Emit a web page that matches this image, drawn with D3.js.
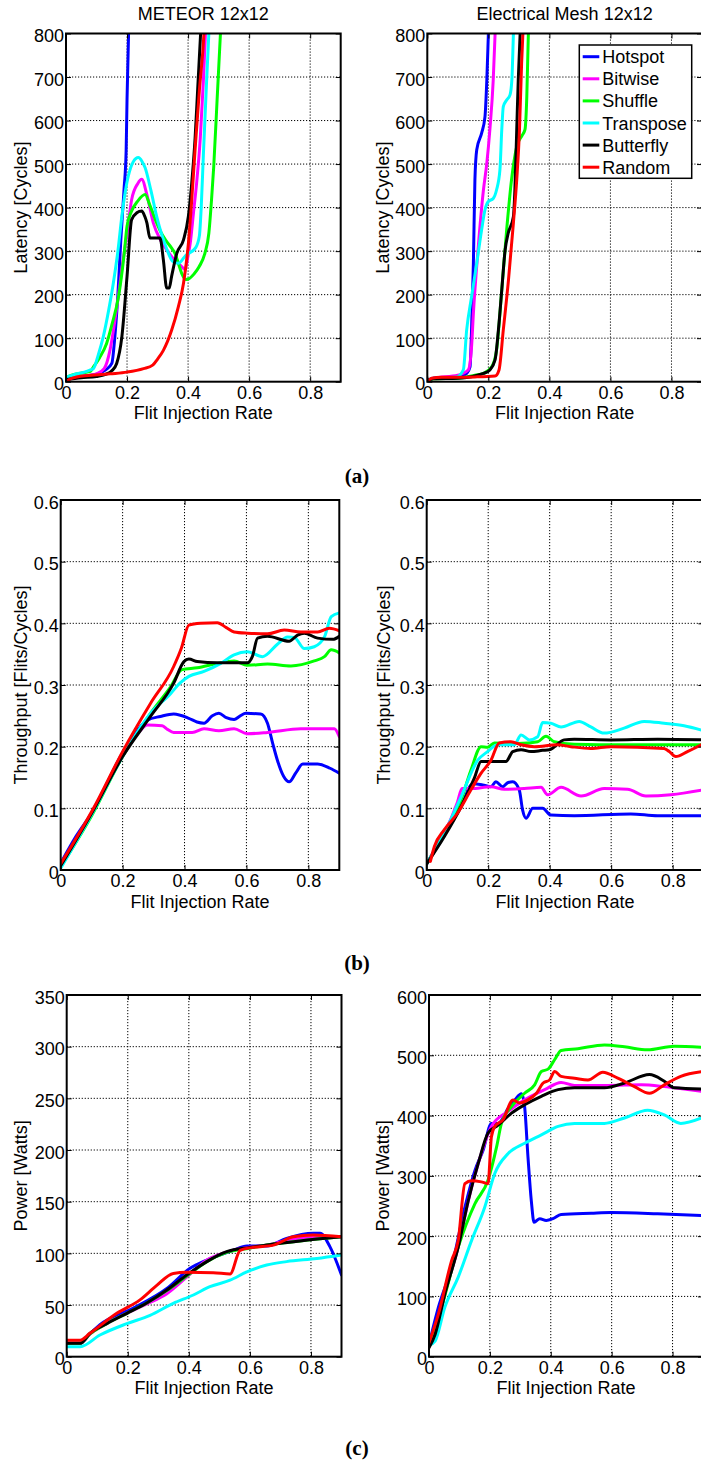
<!DOCTYPE html>
<html><head><meta charset="utf-8">
<script src="https://cdn.jsdelivr.net/npm/d3@7"></script>
<style>body{margin:0;background:#fff}svg{display:block}</style>
</head><body>
<svg id="c" width="701" height="1464"></svg>
<script>
// ---------- labels / ticks ----------
const seriesNames = ["Hotspot","Bitwise","Shuffle","Transpose","Butterfly","Random"];
const seriesColors = ["#0000ff","#ff00ff","#00ff00","#00ffff","#000000","#ff0000"];
const panelTitles = ["METEOR 12x12","Electrical Mesh 12x12"];
const captions = ["(a)","(b)","(c)"];
const xTicks = [0,0.2,0.4,0.6,0.8];
const latencyTicks = [0,100,200,300,400,500,600,700,800];
const throughputTicks = [0,0.1,0.2,0.3,0.4,0.5,0.6];
const meteorPowerTicks = [0,50,100,150,200,250,300,350];
const meshPowerTicks = [0,100,200,300,400,500,600];
const yLabels = ["Latency [Cycles]","Throughput [Flits/Cycles]","Power [Watts]"];
const xLabel = "Flit Injection Rate";

// ---------- METEOR latency ----------
const meteorLatencyHotspot = [[0,5],[0.05,12],[0.1,17],[0.13,27],[0.15,42],[0.16,103],[0.17,200],[0.18,330],[0.19,440],[0.197,530],[0.2,650],[0.205,800],[0.208,860]];
const meteorLatencyBitwise = [[0,5],[0.05,12],[0.1,18],[0.125,30],[0.144,72],[0.158,130],[0.17,188],[0.185,270],[0.2,340],[0.215,418],[0.235,455],[0.248,465],[0.265,430],[0.286,365],[0.31,325],[0.33,303],[0.355,280],[0.374,268],[0.39,258],[0.4,290],[0.407,318],[0.418,390],[0.428,457],[0.44,560],[0.45,690],[0.457,800],[0.46,850]];
const meteorLatencyShuffle = [[0,10],[0.03,17],[0.06,21],[0.08,24],[0.09,34],[0.11,55],[0.133,88],[0.15,130],[0.172,195],[0.19,290],[0.2,357],[0.215,392],[0.235,415],[0.259,430],[0.275,405],[0.297,365],[0.315,338],[0.33,322],[0.345,308],[0.357,295],[0.368,272],[0.379,249],[0.392,235],[0.401,236],[0.42,248],[0.436,264],[0.455,295],[0.468,341],[0.477,420],[0.484,494],[0.495,647],[0.506,800],[0.51,860]];
const meteorLatencyTranspose = [[0,10],[0.03,17],[0.06,22],[0.08,27],[0.09,30],[0.105,60],[0.122,103],[0.14,165],[0.155,226],[0.17,300],[0.183,380],[0.195,440],[0.204,472],[0.22,505],[0.237,515],[0.25,505],[0.259,492],[0.278,440],[0.297,380],[0.315,335],[0.33,305],[0.35,276],[0.368,272],[0.392,290],[0.425,308],[0.437,335],[0.443,400],[0.45,520],[0.46,680],[0.468,800],[0.472,860]];
const meteorLatencyButterfly = [[0,5],[0.05,9],[0.1,12],[0.13,17],[0.15,25],[0.166,42],[0.183,103],[0.2,242],[0.215,372],[0.232,388],[0.248,392],[0.258,380],[0.265,365],[0.275,330],[0.29,330],[0.308,330],[0.319,280],[0.33,215],[0.338,215],[0.346,242],[0.363,295],[0.385,326],[0.401,380],[0.412,457],[0.423,560],[0.432,680],[0.441,800],[0.445,860]];
const meteorLatencyRandom = [[0,0],[0.01,5],[0.035,11],[0.144,18],[0.2,22],[0.254,30],[0.284,38],[0.3,52],[0.319,72],[0.346,118],[0.368,172],[0.385,226],[0.401,318],[0.412,418],[0.423,534],[0.437,670],[0.452,800],[0.456,860]];

// ---------- Electrical Mesh latency ----------
const meshLatencyHotspot = [[0,3],[0.02,8],[0.1,11],[0.13,20],[0.14,34],[0.145,119],[0.151,272],[0.156,464],[0.162,533],[0.178,571],[0.189,609],[0.195,693],[0.2,797],[0.202,840]];
const meshLatencyBitwise = [[0,3],[0.02,8],[0.1,15],[0.134,27],[0.145,80],[0.151,157],[0.167,310],[0.184,441],[0.195,502],[0.205,579],[0.216,693],[0.222,797],[0.224,840]];
const meshLatencyShuffle = [[0,3],[0.02,7],[0.1,8],[0.156,15],[0.184,19],[0.211,34],[0.227,73],[0.244,211],[0.26,349],[0.276,464],[0.293,540],[0.31,565],[0.32,579],[0.326,655],[0.331,797],[0.333,840]];
const meshLatencyTranspose = [[0,3],[0.02,8],[0.096,11],[0.118,27],[0.129,119],[0.145,195],[0.162,272],[0.178,349],[0.189,395],[0.2,414],[0.216,421],[0.227,441],[0.238,487],[0.244,579],[0.249,632],[0.26,647],[0.271,659],[0.277,693],[0.282,797],[0.284,840]];
const meshLatencyButterfly = [[0,3],[0.02,7],[0.1,8],[0.184,19],[0.205,27],[0.222,50],[0.233,119],[0.244,211],[0.255,303],[0.265,341],[0.282,379],[0.287,441],[0.293,579],[0.298,693],[0.304,797],[0.306,840]];
const meshLatencyRandom = [[0,0],[0.014,8],[0.047,10],[0.156,11],[0.222,13],[0.235,27],[0.249,119],[0.266,234],[0.282,364],[0.293,464],[0.302,579],[0.309,732],[0.313,797],[0.315,840]];

// ---------- METEOR throughput ----------
const meteorThroughputHotspot = [[0,0.011],[0.05,0.055],[0.106,0.097],[0.2,0.19],[0.25,0.228],[0.28,0.243],[0.322,0.249],[0.365,0.253],[0.414,0.246],[0.44,0.24],[0.463,0.238],[0.49,0.25],[0.511,0.254],[0.535,0.247],[0.56,0.244],[0.58,0.25],[0.598,0.254],[0.646,0.253],[0.668,0.238],[0.685,0.205],[0.7,0.178],[0.72,0.152],[0.738,0.143],[0.76,0.158],[0.782,0.172],[0.83,0.172],[0.87,0.165],[0.9,0.157]];
const meteorThroughputBitwise = [[0,0.008],[0.1,0.093],[0.2,0.185],[0.25,0.222],[0.28,0.235],[0.328,0.234],[0.345,0.228],[0.365,0.223],[0.425,0.223],[0.463,0.229],[0.511,0.226],[0.56,0.229],[0.603,0.221],[0.668,0.223],[0.776,0.229],[0.884,0.229],[0.9,0.216]];
const meteorThroughputShuffle = [[0,0.005],[0.1,0.088],[0.2,0.184],[0.29,0.254],[0.355,0.297],[0.392,0.325],[0.441,0.328],[0.506,0.335],[0.56,0.339],[0.603,0.332],[0.668,0.334],[0.744,0.331],[0.819,0.339],[0.852,0.346],[0.874,0.357],[0.9,0.352]];
const meteorThroughputTranspose = [[0,0.003],[0.1,0.09],[0.2,0.184],[0.29,0.254],[0.355,0.286],[0.385,0.303],[0.414,0.314],[0.463,0.322],[0.517,0.335],[0.56,0.349],[0.603,0.354],[0.652,0.346],[0.7,0.366],[0.733,0.378],[0.755,0.377],[0.787,0.359],[0.819,0.362],[0.852,0.378],[0.874,0.411],[0.9,0.417]];
const meteorThroughputButterfly = [[0,0.007],[0.1,0.092],[0.2,0.184],[0.29,0.249],[0.365,0.303],[0.398,0.338],[0.414,0.342],[0.441,0.338],[0.506,0.336],[0.603,0.336],[0.619,0.346],[0.636,0.376],[0.668,0.379],[0.738,0.371],[0.765,0.381],[0.787,0.384],[0.83,0.376],[0.879,0.374],[0.9,0.379]];
const meteorThroughputRandom = [[0,0.01],[0.106,0.1],[0.2,0.192],[0.29,0.27],[0.365,0.33],[0.39,0.36],[0.414,0.397],[0.452,0.4],[0.506,0.401],[0.535,0.393],[0.56,0.386],[0.603,0.384],[0.668,0.383],[0.722,0.389],[0.776,0.386],[0.83,0.386],[0.868,0.392],[0.9,0.388]];

// ---------- Electrical Mesh throughput ----------
const meshThroughputHotspot = [[0,0.01],[0.057,0.059],[0.112,0.103],[0.15,0.14],[0.182,0.138],[0.209,0.135],[0.225,0.143],[0.247,0.135],[0.265,0.142],[0.28,0.143],[0.301,0.13],[0.312,0.097],[0.323,0.084],[0.345,0.1],[0.377,0.1],[0.404,0.089],[0.48,0.088],[0.664,0.091],[0.751,0.088],[0.9,0.088]];
const meshThroughputBitwise = [[0,0.01],[0.057,0.059],[0.1,0.11],[0.115,0.132],[0.144,0.132],[0.209,0.135],[0.252,0.131],[0.317,0.132],[0.372,0.134],[0.393,0.122],[0.437,0.134],[0.502,0.12],[0.577,0.132],[0.653,0.131],[0.713,0.12],[0.794,0.122],[0.9,0.13]];
const meshThroughputShuffle = [[0,0.01],[0.057,0.059],[0.112,0.114],[0.144,0.162],[0.177,0.2],[0.198,0.199],[0.22,0.206],[0.296,0.205],[0.361,0.208],[0.388,0.217],[0.415,0.208],[0.48,0.204],[0.642,0.203],[0.9,0.203]];
const meshThroughputTranspose = [[0,0.01],[0.057,0.059],[0.112,0.119],[0.166,0.178],[0.198,0.192],[0.231,0.203],[0.285,0.203],[0.307,0.219],[0.334,0.211],[0.361,0.216],[0.377,0.239],[0.404,0.238],[0.437,0.232],[0.496,0.241],[0.534,0.232],[0.577,0.222],[0.642,0.23],[0.707,0.241],[0.772,0.238],[0.837,0.234],[0.9,0.226]];
const meshThroughputButterfly = [[0,0.01],[0.057,0.054],[0.112,0.103],[0.155,0.149],[0.177,0.176],[0.209,0.176],[0.258,0.176],[0.28,0.192],[0.307,0.195],[0.339,0.192],[0.377,0.194],[0.399,0.195],[0.447,0.211],[0.48,0.212],[0.599,0.211],[0.751,0.212],[0.9,0.211]];
const meshThroughputRandom = [[0.012,0.014],[0.025,0.038],[0.057,0.065],[0.1,0.092],[0.144,0.13],[0.177,0.157],[0.209,0.178],[0.236,0.206],[0.274,0.208],[0.307,0.203],[0.35,0.2],[0.426,0.203],[0.469,0.2],[0.534,0.197],[0.599,0.2],[0.772,0.197],[0.789,0.192],[0.81,0.184],[0.848,0.192],[0.9,0.205]];

// ---------- METEOR power ----------
const meteorPowerHotspot = [[0,13],[0.044,13],[0.076,22],[0.109,31],[0.218,47],[0.328,66],[0.404,85.5],[0.459,93.5],[0.546,103],[0.59,107],[0.655,107],[0.72,114.5],[0.808,119.4],[0.83,119.4],[0.862,106.5],[0.9,79]];
const meteorPowerBitwise = [[0,13],[0.044,13],[0.076,22],[0.131,32],[0.197,42],[0.262,51],[0.328,61],[0.393,77],[0.459,93.5],[0.546,103],[0.655,108],[0.764,114.5],[0.9,116]];
const meteorPowerShuffle = [[0,13],[0.044,13],[0.076,22],[0.131,32],[0.197,42],[0.262,52],[0.328,64],[0.393,78],[0.459,92],[0.524,101],[0.6,105],[0.677,109],[0.764,112],[0.9,116]];
const meteorPowerTranspose = [[0,9.7],[0.044,9.7],[0.109,21],[0.197,32],[0.273,40],[0.349,51.6],[0.415,59.7],[0.469,67.7],[0.535,74],[0.59,82],[0.655,88.7],[0.72,92],[0.819,95],[0.9,98.4]];
const meteorPowerButterfly = [[0,12.9],[0.044,12.9],[0.076,22.6],[0.131,32],[0.197,42],[0.262,52],[0.328,64.5],[0.393,79],[0.459,92],[0.524,101.6],[0.6,105.8],[0.677,109],[0.764,112],[0.9,116]];
const meteorPowerRandom = [[0,16],[0.044,16],[0.076,22.6],[0.164,42],[0.24,55],[0.295,69],[0.349,80.6],[0.393,81.6],[0.48,81.3],[0.535,80],[0.568,103],[0.611,105.8],[0.677,108],[0.742,116],[0.808,117.7],[0.9,116]];

// ---------- Electrical Mesh power ----------
const meshPowerHotspot = [[0,20],[0.031,82],[0.074,148],[0.118,248],[0.151,309],[0.178,343],[0.205,387],[0.227,387],[0.26,412],[0.282,426],[0.304,436],[0.314,415],[0.325,332],[0.336,259],[0.345,223],[0.364,229],[0.385,226],[0.407,229],[0.434,236],[0.533,238],[0.598,239],[0.751,237],[0.9,234]];
const meshPowerBitwise = [[0,20],[0.02,37],[0.052,104],[0.096,182],[0.129,259],[0.162,321],[0.205,382],[0.26,407],[0.314,426],[0.38,443],[0.434,455],[0.478,450],[0.587,450],[0.697,451],[0.773,448],[0.838,444],[0.9,440]];
const meshPowerShuffle = [[0,20],[0.041,82],[0.096,182],[0.151,254],[0.194,293],[0.222,348],[0.238,387],[0.271,415],[0.314,437],[0.347,451],[0.369,473],[0.391,477],[0.413,493],[0.434,508],[0.489,511],[0.576,517],[0.642,514],[0.718,509],[0.806,515],[0.9,513]];
const meshPowerTranspose = [[0,19],[0.02,26],[0.052,82],[0.096,132],[0.14,193],[0.183,248],[0.216,304],[0.26,337],[0.314,354],[0.369,368],[0.424,382],[0.478,387],[0.576,387],[0.642,396],[0.718,409],[0.773,401],[0.827,387],[0.9,397]];
const meshPowerButterfly = [[0,15],[0.02,37],[0.052,104],[0.096,182],[0.129,259],[0.162,321],[0.194,371],[0.227,384],[0.271,404],[0.314,418],[0.369,432],[0.424,443],[0.478,446],[0.576,446],[0.642,454],[0.724,468],[0.773,457],[0.806,446],[0.9,444]];
const meshPowerRandom = [[0,23],[0.031,71],[0.074,159],[0.096,193],[0.118,287],[0.14,292],[0.172,290],[0.194,287],[0.205,365],[0.216,382],[0.243,393],[0.276,426],[0.298,421],[0.325,426],[0.353,437],[0.375,454],[0.396,459],[0.413,473],[0.434,465],[0.478,462],[0.522,459],[0.571,472],[0.62,462],[0.675,448],[0.724,437],[0.773,451],[0.827,465],[0.9,473]];

// ---------- layout ----------
const FONT = "'Liberation Sans', Arial, Helvetica, sans-serif";
const panels = [
  {left:66, right:340.7, top:33.5, bottom:381.7, yMax:800, yTicks:latencyTicks, yLab:yLabels[0], labX:27, title:panelTitles[0],
   series:[meteorLatencyHotspot,meteorLatencyBitwise,meteorLatencyShuffle,meteorLatencyTranspose,meteorLatencyButterfly,meteorLatencyRandom]},
  {left:427.3, right:702, top:33.5, bottom:381.7, yMax:800, yTicks:latencyTicks, yLab:yLabels[0], labX:389, title:panelTitles[1], legend:true,
   series:[meshLatencyHotspot,meshLatencyBitwise,meshLatencyShuffle,meshLatencyTranspose,meshLatencyButterfly,meshLatencyRandom]},
  {left:60.7, right:339.3, top:500, bottom:870, yMax:0.6, yTicks:throughputTicks, yLab:yLabels[1], labX:27,
   series:[meteorThroughputHotspot,meteorThroughputBitwise,meteorThroughputShuffle,meteorThroughputTranspose,meteorThroughputButterfly,meteorThroughputRandom]},
  {left:426.7, right:703.4, top:500, bottom:870, yMax:0.6, yTicks:throughputTicks, yLab:yLabels[1], labX:390,
   series:[meshThroughputHotspot,meshThroughputBitwise,meshThroughputShuffle,meshThroughputTranspose,meshThroughputButterfly,meshThroughputRandom]},
  {left:66.7, right:341.5, top:995, bottom:1356.7, yMax:350, yTicks:meteorPowerTicks, yLab:yLabels[2], labX:27,
   series:[meteorPowerHotspot,meteorPowerBitwise,meteorPowerShuffle,meteorPowerTranspose,meteorPowerButterfly,meteorPowerRandom]},
  {left:429, right:703, top:995, bottom:1356.7, yMax:600, yTicks:meshPowerTicks, yLab:yLabels[2], labX:389,
   series:[meshPowerHotspot,meshPowerBitwise,meshPowerShuffle,meshPowerTranspose,meshPowerButterfly,meshPowerRandom]}
];
const captionY = [483, 970, 1455];

const svg = d3.select("#c");
svg.append("rect").attr("width",701).attr("height",1464).attr("fill","#fff");
const defs = svg.append("defs");

panels.forEach((p, i) => {
  const x = d3.scaleLinear().domain([0, 0.9]).range([p.left, p.right]);
  const y = d3.scaleLinear().domain([0, p.yMax]).range([p.bottom, p.top]);
  const g = svg.append("g");
  const cid = "clip" + i;
  defs.append("clipPath").attr("id", cid)
    .append("rect").attr("x", p.left).attr("y", p.top)
    .attr("width", p.right - p.left).attr("height", p.bottom - p.top);

  // dotted grid
  const grid = g.append("g").attr("stroke","#000").attr("stroke-width",1).attr("stroke-dasharray","1.2,1.8");
  xTicks.filter(t => t > 0).forEach(t => {
    grid.append("line").attr("x1", x(t)).attr("x2", x(t)).attr("y1", p.top).attr("y2", p.bottom);
  });
  p.yTicks.filter(t => t > 0 && t < p.yMax).forEach(t => {
    grid.append("line").attr("x1", p.left).attr("x2", p.right).attr("y1", y(t)).attr("y2", y(t));
  });

  // series lines (legend order, last on top)
  const line = d3.line().x(d => x(d[0])).y(d => y(d[1])).curve(d3.curveMonotoneX);
  const lg = g.append("g").attr("clip-path", `url(#${cid})`);
  p.series.forEach((s, k) => {
    lg.append("path").attr("d", line(s)).attr("fill","none")
      .attr("stroke", seriesColors[k]).attr("stroke-width", 3)
      .attr("stroke-linejoin","round").attr("stroke-linecap","round");
  });

  // axes with inward ticks
  const fmt = d => String(d);
  const ax = g.append("g").attr("transform", `translate(0,${p.bottom})`)
    .call(d3.axisBottom(x).tickValues(xTicks).tickFormat(fmt).tickSize(-5).tickPadding(4.5).tickSizeOuter(0));
  const ay = g.append("g").attr("transform", `translate(${p.left},0)`)
    .call(d3.axisLeft(y).tickValues(p.yTicks).tickFormat(fmt).tickSize(-5).tickPadding(2).tickSizeOuter(0));
  g.append("g").attr("transform", `translate(0,${p.top})`)
    .call(d3.axisTop(x).tickValues(xTicks).tickFormat("").tickSize(-5).tickSizeOuter(0));
  g.append("g").attr("transform", `translate(${p.right},0)`)
    .call(d3.axisRight(y).tickValues(p.yTicks).tickFormat("").tickSize(-5).tickSizeOuter(0));
  g.selectAll(".domain").remove();
  g.selectAll(".tick line").attr("stroke","#000").attr("stroke-width",1);
  [ax, ay].forEach(a => a.selectAll("text").attr("font-family", FONT).attr("font-size", 18).attr("fill","#000"));
  ay.selectAll("text").attr("dy", "8px");

  // box
  g.append("rect").attr("x", p.left).attr("y", p.top)
    .attr("width", p.right - p.left).attr("height", p.bottom - p.top)
    .attr("fill","none").attr("stroke","#000").attr("stroke-width",2);

  // labels
  const cx = (p.left + p.right) / 2, cy = (p.top + p.bottom) / 2;
  g.append("text").attr("x", cx).attr("y", p.bottom + 37.5).attr("text-anchor","middle")
    .attr("font-family", FONT).attr("font-size", 18).text(xLabel);
  g.append("text").attr("transform", `translate(${p.labX},${cy}) rotate(-90)`).attr("text-anchor","middle")
    .attr("font-family", FONT).attr("font-size", 18).text(p.yLab);
  if (p.title) {
    g.append("text").attr("x", cx).attr("y", 20).attr("text-anchor","middle")
      .attr("font-family", FONT).attr("font-size", 18).text(p.title);
  }

  // legend
  if (p.legend) {
    const lx = 579.3, ly = 45, lw = 112.4, lh = 133.3;
    const leg = g.append("g");
    leg.append("rect").attr("x", lx).attr("y", ly).attr("width", lw).attr("height", lh)
      .attr("fill","#fff").attr("stroke","#000").attr("stroke-width",1.5);
    seriesNames.forEach((n, k) => {
      const ry = 56.7 + k * 22.1;
      leg.append("line").attr("x1", 582.7).attr("x2", 599.3).attr("y1", ry).attr("y2", ry)
        .attr("stroke", seriesColors[k]).attr("stroke-width", 3);
      leg.append("text").attr("x", 602.3).attr("y", ry + 6.5)
        .attr("font-family", FONT).attr("font-size", 18).text(n);
    });
  }
});

captions.forEach((c, i) => {
  svg.append("text").attr("x", 357).attr("y", captionY[i]).attr("text-anchor","middle")
    .attr("font-family","'Liberation Serif','Times New Roman',serif").attr("font-weight","bold")
    .attr("font-size", 21).text(c);
});
</script>
</body></html>
